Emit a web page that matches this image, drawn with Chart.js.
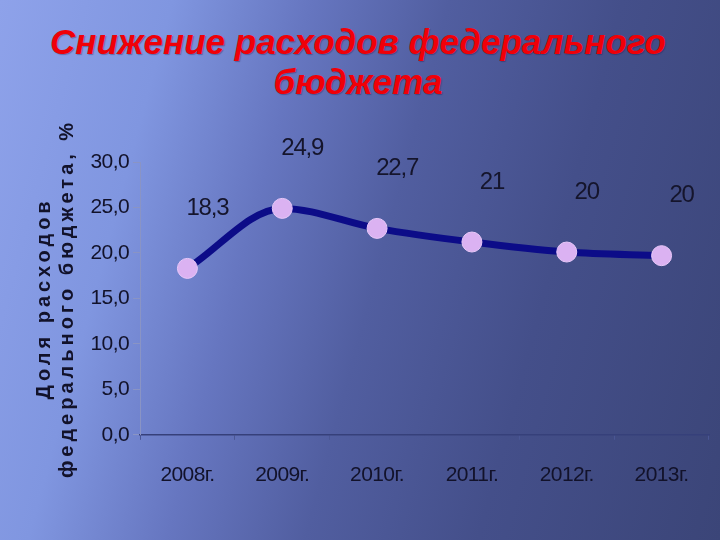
<!DOCTYPE html>
<html>
<head>
<meta charset="utf-8">
<script src="https://cdn.jsdelivr.net/npm/chart.js@4/dist/chart.umd.min.js"></script>
<style>
  html, body { margin: 0; padding: 0; }
  body {
    width: 720px; height: 540px; overflow: hidden; position: relative;
    background: linear-gradient(105deg, #8ea2ea 0%, #8096e0 20%, #6676c0 36%, #515ea0 52%, #444f8a 72%, #3b4578 100%);
  }
  #title {
    position: absolute; left: 0; top: 22px; width: 716px; text-align: center;
    font: italic bold 35px "Liberation Sans", Arial, sans-serif; line-height: 40px;
    color: #f00008; text-shadow: 1px 1px 1px rgba(40,20,60,0.35);
  }
  #wrap { position: absolute; left: 0; top: 0; width: 720px; height: 540px; }
</style>
</head>
<body>
<div id="title">Снижение расходов федерального<br>бюджета</div>
<div id="wrap"><canvas id="lChart"></canvas></div>
<script>
// years on the x axis
var years = ["2008г.", "2009г.", "2010г.", "2011г.", "2012г.", "2013г."];
// share of federal budget spending, %
var shares = [18.3, 24.9, 22.7, 21.2, 20.1, 19.7];
// labels as printed above the points
var shareLabels = ["18,3", "24,9", "22,7", "21", "20", "20"];
var yTitle = ["Доля расходов", "федерального бюджета, %"];

var tickFont = { family: "'Liberation Sans', Arial, sans-serif", size: 21 };

// spaced-out letters for the axis title, tight letters for the numbers
const spacing = {
  id: 'spacing',
  beforeDraw(chart) { chart.ctx.letterSpacing = '4px'; },
  beforeDatasetsDraw(chart) { chart.ctx.letterSpacing = '-0.6px'; }
};

// value labels above the points
const valueLabels = {
  id: 'valueLabels',
  afterDatasetsDraw(chart) {
    const ctx = chart.ctx;
    const meta = chart.getDatasetMeta(0);
    ctx.save();
    ctx.letterSpacing = '-1.2px';
    ctx.font = "24px 'Liberation Sans', Arial, sans-serif";
    ctx.fillStyle = '#15152c';
    ctx.textAlign = 'center';
    ctx.textBaseline = 'middle';
    meta.data.forEach(function(pt, i) {
      ctx.fillText(shareLabels[i], pt.x + 20, pt.y - 60);
    });
    ctx.restore();
  }
};

const CHART = document.getElementById("lChart");
let lineChart = new Chart(CHART, {
  type: 'line',
  data: {
    labels: years,
    datasets: [{
      label: 'Доля расходов',
      data: shares,
      borderColor: '#0c0c88',
      borderWidth: 7,
      cubicInterpolationMode: 'monotone',
      pointRadius: 10,
      pointHoverRadius: 10,
      pointBackgroundColor: '#dbb2f2',
      pointBorderColor: '#e8c8f8',
      pointBorderWidth: 1
    }]
  },
  options: {
    responsive: true,
    maintainAspectRatio: false,
    animation: false,
    layout: { padding: { top: 162, right: 2, bottom: 29, left: 0 } },
    plugins: { legend: { display: false }, tooltip: { enabled: false } },
    scales: {
      x: {
        offset: true,
        grid: { offset: true, drawOnChartArea: false, tickLength: 5, color: '#4a5694' },
        border: { color: '#36407a', width: 1.5 },
        ticks: { z: 1, font: tickFont, color: '#12122a', padding: 23 }
      },
      y: {
        min: 0, max: 30,
        afterFit(scale) { scale.width = 140; },
        grid: { drawOnChartArea: false, tickLength: 7, color: '#8a94c4' },
        border: { color: '#8a94c4' },
        ticks: {
          z: 1, stepSize: 5, font: tickFont, color: '#12122a', padding: 4,
          callback: function(v) { return v.toFixed(1).replace('.', ','); }
        },
        title: {
          display: true, text: yTitle, color: '#12122a',
          font: { family: "'Liberation Sans', Arial, sans-serif", size: 20, weight: 'bold', lineHeight: 1.15 },
          padding: { top: 33, bottom: 0 }
        }
      }
    }
  },
  plugins: [spacing, valueLabels]
});
</script>
</body>
</html>
